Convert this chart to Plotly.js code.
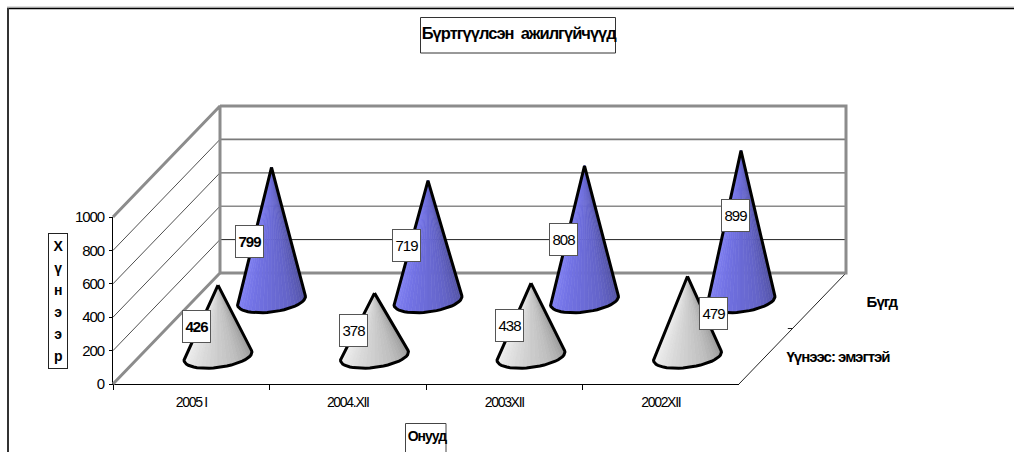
<!DOCTYPE html>
<html>
<head>
<meta charset="utf-8">
<script src="https://cdn.plot.ly/plotly-3.0.1.min.js"></script>
<style>
html,body{margin:0;padding:0;background:#fff;overflow:hidden}
#chart{width:1014px;height:452px}
.xtick text{letter-spacing:-1.3px}
.ytick text{letter-spacing:-1.1px}
.annotation-text-g text{letter-spacing:-1px}
</style>
</head>
<body>
<div id="chart"></div>
<script>
// ---- data ----
var categories = ["2005 I", "2004.XII", "2003XII", "2002XII"];
var seriesNames = ["Үүнээс: эмэгтэй", "Бүгд"];
var womenValues = [426, 378, 438, 479];
var totalValues = [799, 719, 808, 899];
var yTicks = [0, 200, 400, 600, 800, 1000];
var wallGridValues = [200, 400, 600, 800];

// ---- layout geometry ----
var W = 1014, H = 452;
var L = 113, R = 739, B = 384, T = 217;
var pxX = function (x) { return x / W; };
var pxY = function (y) { return 1 - y / H; };
var catPerPx = 4 / (R - L), valPerPx = 1000 / (B - T);
var depthX = 107 * catPerPx;   // category units across full depth
var depthY = 111 * valPerPx;   // value units across full depth
var rowDepth = [0.25, 0.75];
var radiusX = 0.204, radiusDepth = 0.108;
var SLICES = 26;

function hex(c) { return "rgb(" + c.map(Math.round).join(",") + ")"; }
function ramp(stops, f) {
  var n = stops.length - 1, p = Math.min(f * n, n - 1e-6), i = Math.floor(p), k = p - i;
  return hex(stops[i].map(function (v, j) { return v + (stops[i + 1][j] - v) * k; }));
}
var greyStops = [[250,250,250],[220,220,220],[190,190,190],[140,140,140]];
var blueStops = [[136,136,250],[114,114,228],[100,100,200],[76,76,150]];

var traces = [];
// invisible trace so the category axis is drawn by the library
traces.push({type:"scatter", mode:"markers", x:categories, y:womenValues, xaxis:"x", yaxis:"y",
  marker:{opacity:0}, hoverinfo:"skip", showlegend:false});

function seg(xs, ys, color, width) {
  traces.push({type:"scatter", mode:"lines", x:xs, y:ys, xaxis:"x2", yaxis:"y2", cliponaxis:false,
    line:{color:color, width:width}, hoverinfo:"skip", showlegend:false});
}
var x0 = -0.5, x1 = 3.5, dX = depthX, dY = depthY;
// side-wall grid lines and back-wall grid lines
var backColors = {200:"#222", 400:"#8a8a8a", 600:"#666", 800:"#7a7a7a"};
var backWidths = {200:1, 400:1.6, 600:1.2, 800:1.6};
wallGridValues.forEach(function (v) {
  seg([x0, x0 + dX], [v, v + dY], "#222", 0.8);
  seg([x0 + dX, x1 + dX], [v + dY, v + dY], backColors[v], backWidths[v]);
});
// floor right edge
seg([x1, x1 + dX], [0, dY], "#222", 1);
seg([x1 + dX/2 - 0.03, x1 + dX/2], [dY/2, dY/2], "#222", 1);
// thick walls
seg([x0, x0 + dX, x0 + dX, x0], [0, dY, 1000 + dY, 1000], "#8c8c8c", 3);
seg([x0 + dX, x1 + dX, x1 + dX, x0 + dX], [1000 + dY, 1000 + dY, dY, dY], "#8c8c8c", 3);

function cone(i, row, value, stops) {
  var d = rowDepth[row];
  var cx = i + dX * d, cy = dY * d;
  var ux = radiusX, vx = dX * radiusDepth, vy = dY * radiusDepth;
  var beta = value / vy, alpha = -vx * beta / ux;
  var r = Math.sqrt(alpha * alpha + beta * beta);
  var th = Math.atan2(beta, alpha), ac = Math.acos(1 / r);
  // visible arc runs between the two tangents through the lower side
  var t1 = th + ac, t2 = th - ac + 2 * Math.PI;
  var px = [], py = [];
  for (var k = 0; k <= SLICES; k++) {
    var t = t1 + (t2 - t1) * k / SLICES;
    px.push(cx + ux * Math.cos(t) + vx * Math.sin(t));
    py.push(cy + vy * Math.sin(t));
  }
  var ax = cx, ay = cy + value;
  for (k = 0; k < SLICES; k++) {
    var col = ramp(stops, (k + 0.5) / SLICES);
    traces.push({type:"scatter", mode:"lines", x:[ax, px[k], px[k + 1], ax], y:[ay, py[k], py[k + 1], ay],
      xaxis:"x2", yaxis:"y2", cliponaxis:false, fill:"toself", fillcolor:col,
      line:{color:col, width:0.6}, hoverinfo:"skip", showlegend:false});
  }
  traces.push({type:"scatter", mode:"lines", x:[ax].concat(px, [ax]), y:[ay].concat(py, [ay]),
    xaxis:"x2", yaxis:"y2", cliponaxis:false, line:{color:"#000", width:3},
    hoverinfo:"skip", showlegend:false});
}
categories.forEach(function (c, i) { cone(i, 1, totalValues[i], blueStops); });
categories.forEach(function (c, i) { cone(i, 0, womenValues[i], greyStops); });

// ---- text boxes ----
var font = "Liberation Sans, Arial, sans-serif";
function box(text, x, y, w, h, size, bold, border) {
  return {xref:"paper", yref:"paper", x:pxX(x), y:pxY(y), xanchor:"center", yanchor:"middle",
    text: bold ? "<b>" + text + "</b>" : text, showarrow:false, width:w, height:h,
    align:"center", valign:"middle", font:{family:font, size:size, color:"#000"},
    bgcolor: border ? "#fff" : "rgba(0,0,0,0)", bordercolor: border || "rgba(0,0,0,0)",
    borderwidth: border ? 1 : 0, borderpad:0};
}
function rect(x0, y0, x1, y1, color) {
  return {type:"rect", xref:"paper", yref:"paper", x0:pxX(x0), x1:pxX(x1), y0:pxY(y0), y1:pxY(y1),
    fillcolor:"#fff", line:{color:color, width:1}};
}
var labelCenters = [
  [[196,326],[353,330],[509,325],[713,313]],
  [[249,241],[406,246],[563,239],[735,215]]
];
var annotations = [];
womenValues.forEach(function (v, i) {
  annotations.push(box(String(v), labelCenters[0][i][0], labelCenters[0][i][1], 27, 31, 15, i === 0, "#555"));
});
totalValues.forEach(function (v, i) {
  annotations.push(box(String(v), labelCenters[1][i][0], labelCenters[1][i][1], 27, 31, 15, i === 0, "#555"));
});
annotations.push(box("Бүртгүүлсэн \u00a0ажилгүйчүүд", 519, 33, 210, 24, 16.5, true, null));
annotations.push(box(seriesNames[1], 882, 301, 60, 18, 15, true, null));
annotations.push(box(seriesNames[0], 838, 356, 130, 18, 15, true, null));
annotations.push(box("Онууд", 427, 436, 50, 20, 14, true, null));
var yTitleLetters = ["Х","ү","н","э","э","р"];
annotations.push(box(yTitleLetters.map(function (s) {
  return '<span style="font-size:14px">' + s + "</span>";
}).join("<br>"), 57.5, 300.5, 18, 134, 17, true, "#222"));

var layout = {
  width: W, height: H, autosize: false,
  margin: {l: 0, r: 0, t: 0, b: 0, pad: 0},
  paper_bgcolor: "#fff", plot_bgcolor: "rgba(0,0,0,0)",
  showlegend: false, hovermode: false,
  xaxis: {type:"category", categoryorder:"array", categoryarray:categories, range:[-0.5,3.5],
    domain:[L / W, R / W], anchor:"y",
    tickson:"boundaries", ticks:"outside", ticklen:5, tickcolor:"#000", tickwidth:1, ticklabelstandoff:5,
    showline:true, linecolor:"#000", linewidth:1, showgrid:false, zeroline:false,
    tickfont:{family:font, size:14, color:"#000"}, automargin:false},
  yaxis: {type:"linear", range:[0,1000], tickmode:"array", tickvals:yTicks, ticktext:yTicks.map(String),
    domain:[1 - B / H, 1 - T / H], anchor:"x",
    ticks:"outside", ticklen:3, tickcolor:"#000", tickwidth:1, ticklabelstandoff:2,
    showline:true, linecolor:"#000", linewidth:1, showgrid:false, zeroline:false,
    tickfont:{family:font, size:15, color:"#000"}, automargin:false},
  xaxis2: {domain:[0,1], range:[-0.5 - L * catPerPx, 3.5 + (W - R) * catPerPx], visible:false, anchor:"y2"},
  yaxis2: {domain:[0,1], range:[-(H - B) * valPerPx, 1000 + T * valPerPx], visible:false, anchor:"x2"},
  annotations: annotations,
  shapes: [
    {type:"line", xref:"paper", yref:"paper", x0:pxX(7), x1:pxX(W), y0:pxY(7), y1:pxY(7), line:{color:"#bbb", width:1}},
    {type:"line", xref:"paper", yref:"paper", x0:pxX(7), x1:pxX(W), y0:pxY(8.5), y1:pxY(8.5), line:{color:"#000", width:1.5}},
    {type:"line", xref:"paper", yref:"paper", x0:pxX(8), x1:pxX(8), y0:pxY(8), y1:pxY(H), line:{color:"#333", width:2}},
    rect(420.5, 17.5, 615.5, 53, "#333"),
    rect(405.5, 423.5, 446, 470, "#444")
  ]
};
Plotly.newPlot("chart", traces, layout, {displayModeBar:false, staticPlot:true});
</script>
</body>
</html>
